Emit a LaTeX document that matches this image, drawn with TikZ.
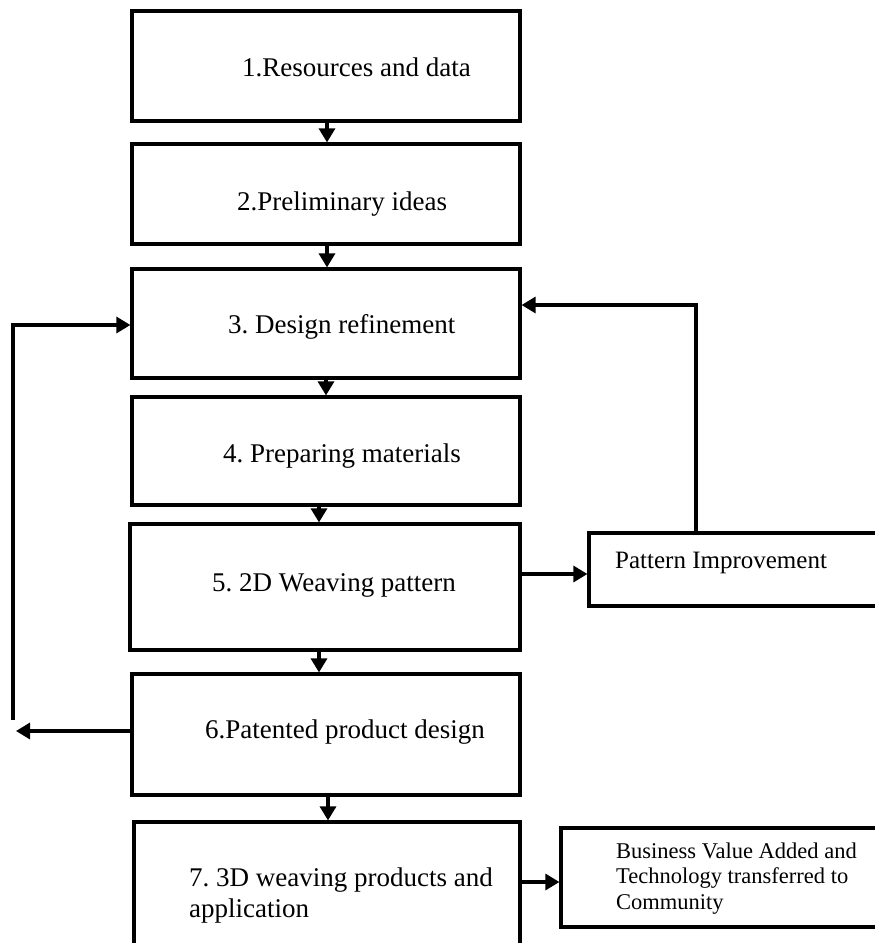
\documentclass[tikz,border=0pt]{standalone}
\usepackage{fontspec}
\setmainfont{Liberation Serif}
\usetikzlibrary{arrows.meta}
\frenchspacing
\tikzset{
  box/.style={draw=black, line width=3.2pt, rectangle, inner sep=0pt, fill=none},
  arr/.style={draw=black, line width=3.2pt, -{Triangle[length=14pt,width=16pt]}},
  txt/.style={anchor=base west, inner sep=0pt, font=\fontsize{27}{31}\selectfont, align=left},
  smalltxt/.style={anchor=base west, inner sep=0pt, font=\fontsize{25}{28}\selectfont, align=left},
  bvtxt/.style={anchor=base west, inner sep=0pt, font=\fontsize{22.5}{25.5}\selectfont, align=left},
}
\begin{document}
\begin{tikzpicture}[x=1pt,y=-1pt]
\useasboundingbox (0,0) rectangle (875,943);
\fill[white] (0,0) rectangle (875,943);
\clip (0,0) rectangle (875,943);
% main boxes
\node[box, minimum width=388pt, minimum height=110pt] (b1) at (326,66) {};
\node[box, minimum width=388pt, minimum height=100pt] (b2) at (326,194) {};
\node[box, minimum width=388pt, minimum height=109pt] (b3) at (326,323.5) {};
\node[box, minimum width=388pt, minimum height=108pt] (b4) at (326,451) {};
\node[box, minimum width=390pt, minimum height=126pt] (b5) at (325,587) {};
\node[box, minimum width=388pt, minimum height=121pt] (b6) at (326,734.5) {};
\node[box, minimum width=386pt, minimum height=160pt] (b7) at (327,902) {};
% side boxes
\node[box, minimum width=320pt, minimum height=73pt] (pi) at (749,569.5) {};
\node[box, minimum width=340pt, minimum height=99pt] (bv) at (731,877.5) {};
% texts
\node[txt] (t1) at (242,76) {1.Resources and data};
\node[txt] (t2) at (237,210) {2.Preliminary ideas};
\node[txt] (t3) at (228,333) {3. Design refinement};
\node[txt] (t4) at (223,462) {4. Preparing materials};
\node[txt] (t5) at (212,591) {5. 2D Weaving pattern};
\node[txt] (t6) at (205,738) {6.Patented product design};
\node[txt] (t7) at (189,917) {7. 3D weaving products and\\application};
\node[smalltxt] (tpi) at (615,568) {Pattern Improvement};
\node[bvtxt] (tbv) at (616,909) {Business Value Added and\\Technology transferred to\\Community};
% vertical flow arrows
\draw[arr] ([xshift=1pt]b1.south) -- ([xshift=1pt]b1.south |- b2.north);
\draw[arr] ([xshift=1pt]b2.south) -- ([xshift=1pt]b2.south |- b3.north);
\draw[arr] (b3.south) -- (b3.south |- b4.north);
\draw[arr] ([xshift=-7pt]b4.south) -- ([xshift=-7pt]b4.south |- b5.north);
\draw[arr] ([xshift=-6pt]b5.south) -- ([xshift=-6pt]b5.south |- b6.north);
\draw[arr] ([xshift=2pt]b6.south) -- ([xshift=2pt]b6.south |- b7.north);
% left feedback
\coordinate (lb) at (16,731);
\coordinate (lt) at (13,325);
\draw[arr] (b6.west |- lb) -- (lb);
\draw[arr] (13,720) -- (lt) -- (lt -| b3.west);
% right feedback
\coordinate (rc) at (696,305);
\draw[arr] (pi.north -| rc) -- (rc) -- (rc -| b3.east);
% side arrows
\coordinate (p5) at (520,574);
\draw[arr] (b5.east |- p5) -- (p5 -| pi.west);
\coordinate (p7) at (520,882);
\draw[arr] (b7.east |- p7) -- (p7 -| bv.west);
\end{tikzpicture}
\end{document}
